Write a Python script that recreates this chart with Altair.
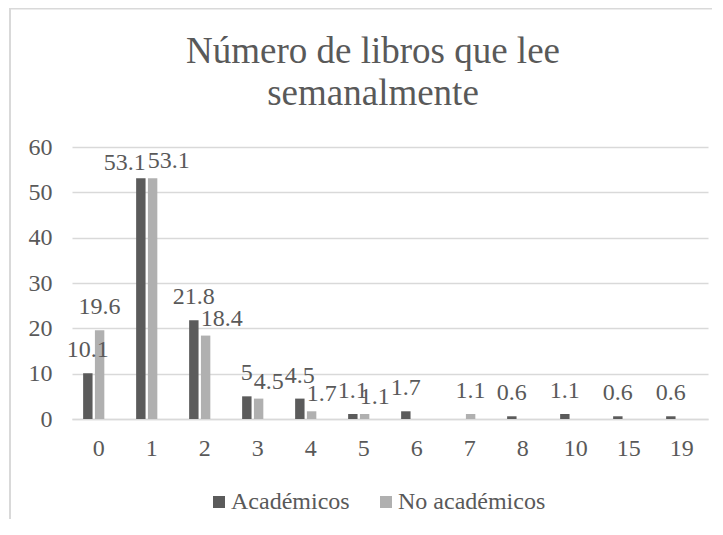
import altair as alt
import pandas as pd

# ---- data ----
categorias = ["0", "1", "2", "3", "4", "5", "6", "7", "8", "10", "15", "19"]
academicos = [10.1, 53.1, 21.8, 5, 4.5, 1.1, 1.7, None, 0.6, 1.1, 0.6, 0.6]
no_academicos = [19.6, 53.1, 18.4, 4.5, 1.7, 1.1, None, 1.1, None, None, None, None]
series = ["Académicos", "No académicos"]
colores = ["#5B5B5B", "#B0B0B0"]
titulo = ["Número de libros que lee", "semanalmente"]
y_ticks = [0, 10, 20, 30, 40, 50, 60]

# label layout rule: when both labels of a category sit at about the same height,
# the right label moves to the right of the pair; the left one also moves left
# when both are equal and wide
rows = []
for c, a, n in zip(categorias, academicos, no_academicos):
    crowded = a is not None and n is not None and abs(a - n) < 4
    if a is not None:
        ta = f"{a:g}"
        rows.append(dict(cat=c, serie=series[0], valor=a, etiqueta=ta,
                         pos="izq" if (crowded and a <= n and len(ta) >= 4) else "centro"))
    if n is not None:
        rows.append(dict(cat=c, serie=series[1], valor=n, etiqueta=f"{n:g}",
                         pos="der" if crowded else "centro"))
df = pd.DataFrame(rows)

FONT = "Liberation Serif, Times New Roman, DejaVu Serif, serif"
GRIS = "#595959"
LINEA = "#D9D9D9"

x = alt.X("cat:N", sort=categorias,
          scale=alt.Scale(domain=categorias, paddingInner=0.6, paddingOuter=0.3, align=0.35),
          axis=alt.Axis(title=None, labelAngle=0, ticks=False, grid=False,
                        domainColor=LINEA, domainWidth=1.5, labelPadding=17, labelOffset=5,
                        labelFont=FONT, labelFontSize=24, labelColor=GRIS))
y = alt.Y("valor:Q", scale=alt.Scale(domain=[0, 60], nice=False),
          axis=alt.Axis(title=None, values=y_ticks, grid=True, gridColor=LINEA, gridWidth=1.5,
                        domain=False, ticks=False, labelPadding=20,
                        labelFont=FONT, labelFontSize=24, labelColor=GRIS))
xo = alt.XOffset("serie:N", sort=series,
                 scale=alt.Scale(domain=series, paddingInner=0.2, paddingOuter=0))

base = alt.Chart(df)

bars = base.mark_bar().encode(
    x=x, xOffset=xo, y=y,
    color=alt.Color("serie:N", sort=series,
                    scale=alt.Scale(domain=series, range=colores),
                    legend=alt.Legend(title=None, orient="none", legendX=135, legendY=343,
                                      direction="horizontal", symbolType="square",
                                      symbolSize=144, symbolStrokeWidth=0,
                                      labelFont=FONT, labelFontSize=24, labelColor=GRIS,
                                      labelOffset=0, columnPadding=24)),
)

txt_style = dict(font=FONT, fontSize=24, color=GRIS, baseline="alphabetic")
lbl_centro = base.transform_filter(alt.datum.pos == "centro").mark_text(
    align="center", dy=-16, **txt_style).encode(x=x, xOffset=xo, y=y, text="etiqueta:N")
lbl_izq = base.transform_filter(alt.datum.pos == "izq").mark_text(
    align="right", dx=-1, dy=-8, **txt_style).encode(x=x, y=y, text="etiqueta:N")
lbl_der = base.transform_filter(alt.datum.pos == "der").mark_text(
    align="left", dx=1, dy=-10, **txt_style).encode(x=x, y=y, text="etiqueta:N")

# chart-area frame (left and top edges visible in the reference)
frame = alt.Chart(pd.DataFrame({"k": [0]}))
borde_izq = frame.mark_rule(color=LINEA, strokeWidth=2).encode(
    x=alt.value(-62), y=alt.value(-139), y2=alt.value(372))
borde_sup = frame.mark_rule(color=LINEA, strokeWidth=2).encode(
    x=alt.value(-63), x2=alt.value(640), y=alt.value(-138.5))

chart = alt.layer(borde_izq, borde_sup, bars, lbl_centro, lbl_izq, lbl_der).properties(
    width=636, height=272,
    padding={"left": 64, "top": 139, "right": 5, "bottom": 100},
    autosize=alt.AutoSizeParams(type="none"),
    title=alt.TitleParams(text=titulo, font=FONT, fontSize=37, fontWeight="normal",
                          color=GRIS, lineHeight=42, offset=-106, dx=-17, anchor="middle"),
).configure_view(stroke=None)

chart.save("out.html", embed_options={"renderer": "svg", "actions": False})
